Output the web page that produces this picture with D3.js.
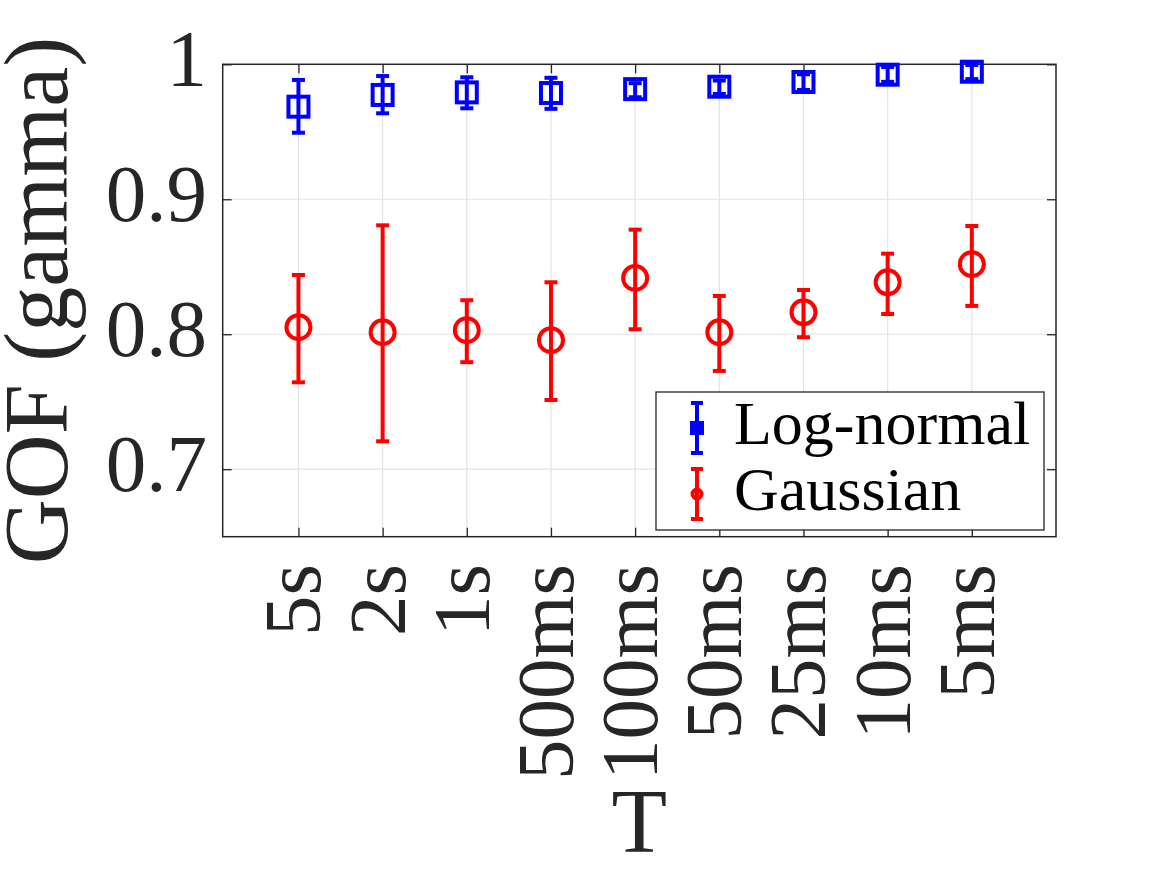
<!DOCTYPE html>
<html>
<head>
<meta charset="utf-8">
<script src="https://cdn.jsdelivr.net/npm/d3@7"></script>
<style>
  body { margin: 0; background: #fff; }
</style>
</head>
<body>
<script>
// data
var categories = ['5s', '2s', '1s', '500ms', '100ms', '50ms', '25ms', '10ms', '5ms'];
var logMean = [0.9686, 0.9773, 0.9792, 0.9787, 0.9816, 0.9834, 0.9869, 0.9923, 0.9945];
var logLow  = [0.9493, 0.9637, 0.9674, 0.9670, 0.9756, 0.9780, 0.9810, 0.9870, 0.9890];
var logHigh = [0.9884, 0.9913, 0.9904, 0.9900, 0.9860, 0.9880, 0.9926, 0.9980, 0.9995];
var gaussMean = [0.8052, 0.8015, 0.8030, 0.7956, 0.8417, 0.8015, 0.8163, 0.8385, 0.8519];
var gaussLow  = [0.7644, 0.7207, 0.7793, 0.7513, 0.8037, 0.7728, 0.7978, 0.8150, 0.8210];
var gaussHigh = [0.8439, 0.8807, 0.8252, 0.8385, 0.8775, 0.8284, 0.8328, 0.8597, 0.8802];
var yTicks = [0.7, 0.8, 0.9, 1];
var seriesNames = ['Log-normal', 'Gaussian'];

var W = 1167, H = 875;
var pL = 222.7, pR = 1056, pT = 64.3, pB = 536.7;
var axisColor = '#262626';
var serif = "'Liberation Serif'";

var svg = d3.select('body').append('svg')
  .attr('width', W)
  .attr('height', H);

var x = d3.scaleLinear().domain([0.1, 10]).range([pL, pR]);
var y = d3.scaleLinear().domain([0.65, 1]).range([pB, pT]);
var idx = categories.map(function(d, i) { return i + 1; });

// grid
svg.append('g').selectAll('line').data(idx).enter().append('line')
  .attr('x1', function(d) { return x(d); }).attr('x2', function(d) { return x(d); })
  .attr('y1', pT).attr('y2', pB)
  .attr('stroke', '#e3e3e3').attr('stroke-width', 1.2);
svg.append('g').selectAll('line').data(yTicks).enter().append('line')
  .attr('x1', pL).attr('x2', pR)
  .attr('y1', function(d) { return y(d); }).attr('y2', function(d) { return y(d); })
  .attr('stroke', '#e3e3e3').attr('stroke-width', 1.2);

// axes with inward ticks (box style)
var tick = 9;
function styleAxis(g) {
  g.select('.domain').remove();
  g.selectAll('.tick line').attr('stroke', axisColor).attr('stroke-width', 1.3);
  g.selectAll('.tick text').remove();
}
svg.append('g').attr('transform', 'translate(0,' + pB + ')')
  .call(d3.axisBottom(x).tickValues(idx).tickSize(-tick)).call(styleAxis);
svg.append('g').attr('transform', 'translate(0,' + pT + ')')
  .call(d3.axisTop(x).tickValues(idx).tickSize(-tick)).call(styleAxis);
svg.append('g').attr('transform', 'translate(' + pL + ',0)')
  .call(d3.axisLeft(y).tickValues(yTicks).tickSize(-tick)).call(styleAxis);
svg.append('g').attr('transform', 'translate(' + pR + ',0)')
  .call(d3.axisRight(y).tickValues(yTicks).tickSize(-tick)).call(styleAxis);

svg.append('rect')
  .attr('x', pL).attr('y', pT)
  .attr('width', pR - pL).attr('height', pB - pT)
  .attr('fill', 'none').attr('stroke', axisColor).attr('stroke-width', 1.5);

// tick labels
svg.append('g').selectAll('text').data(yTicks).enter().append('text')
  .attr('x', 207)
  .attr('y', function(d) { return y(d) + 22; })
  .attr('text-anchor', 'end')
  .style('font-family', serif)
  .style('font-size', '81px')
  .attr('fill', axisColor)
  .text(function(d) { return d === 1 ? '1' : d.toFixed(1); });

svg.append('g').selectAll('text').data(categories).enter().append('text')
  .attr('transform', function(d, i) { return 'translate(' + (x(i + 1) + 22) + ',564) rotate(-90)'; })
  .attr('text-anchor', 'end')
  .style('font-family', serif)
  .style('font-size', '81px')
  .attr('fill', axisColor)
  .text(function(d) { return d; });

// axis titles
svg.append('text')
  .attr('transform', 'translate(67,' + ((pT + pB) / 2) + ') rotate(-90)')
  .attr('text-anchor', 'middle')
  .style('font-family', serif)
  .style('font-size', '90px')
  .attr('fill', axisColor)
  .text('GOF (gamma)');

svg.append('text')
  .attr('x', (pL + pR) / 2).attr('y', 852)
  .attr('text-anchor', 'middle')
  .style('font-family', serif)
  .style('font-size', '91px')
  .attr('fill', axisColor)
  .text('T');

// error bars
function errorBars(mean, lo, hi, color) {
  var g = svg.append('g').attr('stroke', color).attr('stroke-width', 4).attr('fill', 'none');
  var cap = 6.5;
  mean.forEach(function(m, i) {
    var cx = x(i + 1);
    g.append('line').attr('x1', cx).attr('x2', cx).attr('y1', y(lo[i])).attr('y2', y(hi[i]));
    g.append('line').attr('x1', cx - cap).attr('x2', cx + cap).attr('y1', y(lo[i])).attr('y2', y(lo[i]));
    g.append('line').attr('x1', cx - cap).attr('x2', cx + cap).attr('y1', y(hi[i])).attr('y2', y(hi[i]));
  });
  return g;
}

var blue = '#0000ff', red = '#ff0000';
var gb = errorBars(logMean, logLow, logHigh, blue);
gb.selectAll('rect').data(logMean).enter().append('rect')
  .attr('x', function(d, i) { return x(i + 1) - 10; })
  .attr('y', function(d) { return y(d) - 10; })
  .attr('width', 20).attr('height', 20);

var gr = errorBars(gaussMean, gaussLow, gaussHigh, red);
gr.selectAll('circle').data(gaussMean).enter().append('circle')
  .attr('cx', function(d, i) { return x(i + 1); })
  .attr('cy', function(d) { return y(d); })
  .attr('r', 12);

// legend
var lg = svg.append('g');
lg.append('rect')
  .attr('x', 656).attr('y', 392).attr('width', 388).attr('height', 138)
  .attr('fill', '#fff').attr('stroke', axisColor).attr('stroke-width', 1.3);

var legendY = [428, 494];
var legendColors = [blue, red];
seriesNames.forEach(function(name, i) {
  var cy = legendY[i];
  var s = lg.append('g').attr('stroke', legendColors[i]).attr('stroke-width', 4).attr('fill', 'none');
  s.append('line').attr('x1', 697).attr('x2', 697).attr('y1', cy - 25).attr('y2', cy + 25);
  s.append('line').attr('x1', 691).attr('x2', 703).attr('y1', cy - 25).attr('y2', cy - 25);
  s.append('line').attr('x1', 691).attr('x2', 703).attr('y1', cy + 25).attr('y2', cy + 25);
  if (i === 0) {
    s.append('rect').attr('x', 692).attr('y', cy - 5).attr('width', 10).attr('height', 10)
      .attr('fill', legendColors[i]);
  } else {
    s.append('circle').attr('cx', 697).attr('cy', cy).attr('r', 4.5);
  }
  lg.append('text')
    .attr('x', 734).attr('y', cy + 16)
    .style('font-family', serif)
    .style('font-size', '62px')
    .attr('fill', '#000')
    .text(name);
});
</script>
</body>
</html>
